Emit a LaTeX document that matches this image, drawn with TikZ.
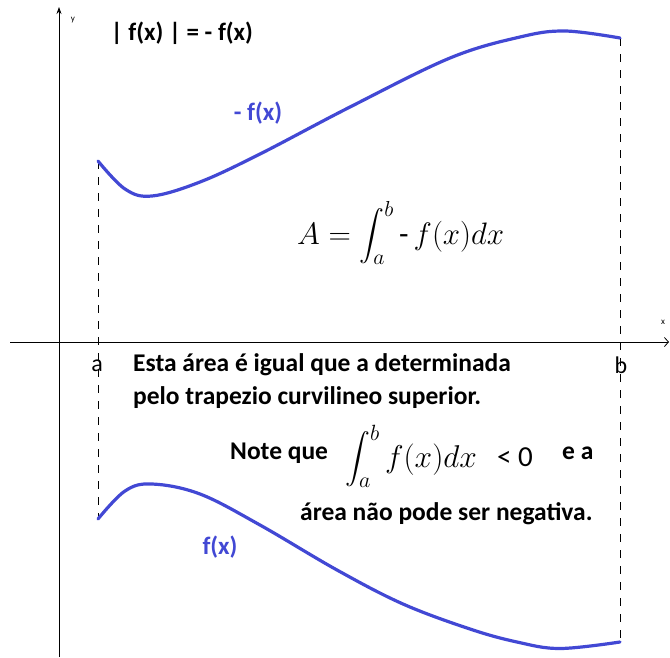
\documentclass[tikz,border=0pt]{standalone}
\usepackage{fix-cm}
\usepackage{amsmath}
\usepackage{fontspec}
\setmainfont{Carlito}
\usepackage{tikz}
\usetikzlibrary{arrows.meta}
\definecolor{curveblue}{RGB}{66,72,212}

\begin{document}
\begin{tikzpicture}[
    x=1pt, y=-1pt,
    every node/.style={inner sep=0pt},
    axis/.style={line width=0.8pt},
    guide/.style={line width=0.8pt, dash pattern=on 8pt off 8pt},
    curve/.style={line width=3.2pt, color=curveblue, line cap=round},
    label/.style={font=\bfseries\fontsize{25}{30}\selectfont},
    note/.style={font=\bfseries\fontsize{25.5}{30}\selectfont},
    axislabel/.style={font=\fontsize{9}{11}\selectfont}
]
\useasboundingbox (0,0) rectangle (670,657);

% Axes
\coordinate (ybot) at (59,657);
\coordinate (ytop) at (59,7);
\coordinate (xleft) at (10,342);
\coordinate (xright) at (669,342);
\draw[axis, -{Stealth[length=7pt,width=5pt]}] (ybot) -- (ytop);
\draw[axis, -{Straight Barb[length=4pt,width=9pt]}] (xleft) -- (xright);
\node[axislabel] (ylab) at (73,20) {$\mathrm{y}$};
\node[axislabel] (xlab) at (663,322) {$\mathrm{x}$};

% Curve ends
\coordinate (ua) at (98,161);
\coordinate (la) at (98,519);
\coordinate (ub) at (620,38);
\coordinate (lb) at (620,642);

% Dashed limits
\draw[guide] (ua) -- (la);
\draw[guide] (ub) -- (lb);

% -f(x) (upper)
\draw[curve] plot[smooth, tension=0.6] coordinates {(98,161) (125,189) (152,196) (200,182) (260,154) (350,107) (450,58) (520,37) (565,31) (620,38)};

% f(x) (lower)
\draw[curve] plot[smooth, tension=0.6] coordinates {(98,519) (125,491) (152,484) (200,494) (260,525) (337,570) (403,604) (470,629) (517,642) (560,648.5) (620,642)};

% Labels
\node[label] (absf) at (182,33) {| f(x) | = - f(x)};
\node[label, text=curveblue] (negf) at (258,113) {- f(x)};
\node[label, text=curveblue] (posf) at (220,547) {f(x)};
\node[font=\fontsize{24}{28}\selectfont, anchor=base] (alab) at (97,371) {a};
\node[font=\fontsize{24}{28}\selectfont, anchor=base] (blab) at (621,373) {b};

% Area formula
\node[anchor=base west, font=\fontsize{31}{36}\selectfont] (area) at (297,244) {$\displaystyle A=\int_a^b\text{-}\,f(x)dx$};

% Comments
\node[note, anchor=base west] (esta) at (133,371) {Esta área é igual que a determinada};
\node[note, anchor=base west] (pelo) at (133,404) {pelo trapezio curvilineo superior.};
\node[note, anchor=base west] (nota) at (230,459) {Note que};
\node[anchor=base west, font=\fontsize{31.5}{36}\selectfont] (integ) at (345,467) {$\displaystyle\int_a^b f(x)dx$};
\node[anchor=base west, font=\fontsize{29}{34}\selectfont] (menor) at (497,466) {< 0};
\node[note, anchor=base west] (ea) at (562,459) {e a};
\node[note, anchor=base west] (areano) at (300,520) {área não pode ser negativa.};

\end{tikzpicture}
\end{document}
